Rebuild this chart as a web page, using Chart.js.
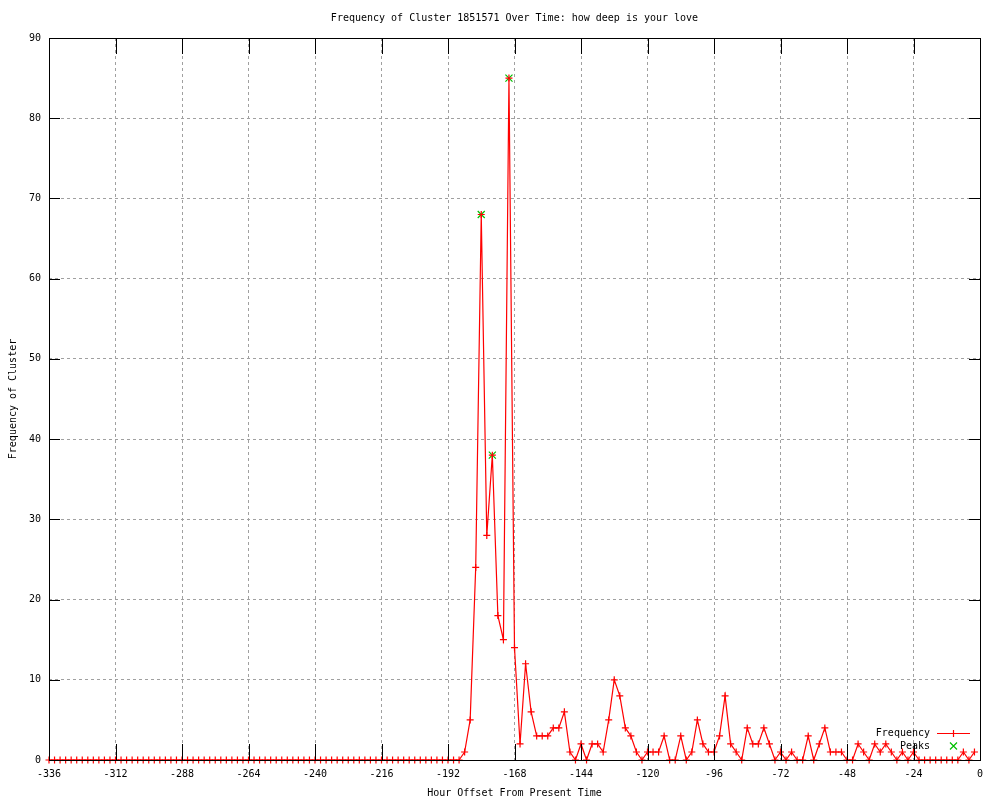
<!DOCTYPE html>
<html>
<head>
<meta charset="utf-8">
<title>Frequency of Cluster 1851571</title>
<script src="https://cdn.jsdelivr.net/npm/chart.js@4/dist/chart.umd.min.js"></script>
<style>
  html, body { margin: 0; padding: 0; background: #fff; }
  #wrap { width: 1000px; height: 800px; }
</style>
</head>
<body>
<div id="wrap"><canvas id="chartFreq" width="1000" height="800"></canvas></div>
<script>
const chartTitle = "Frequency of Cluster 1851571 Over Time: how deep is your love";
const xTitle = "Hour Offset From Present Time";
const yTitle = "Frequency of Cluster";

// one sample every 2 hours, first one at -336
const startHour = -336;
const stepHours = 2;
const frequency = [
  0, 0, 0, 0, 0, 0, 0, 0, 0, 0, 0, 0, 0, 0, 0,
  0, 0, 0, 0, 0, 0, 0, 0, 0, 0, 0, 0, 0, 0, 0,
  0, 0, 0, 0, 0, 0, 0, 0, 0, 0, 0, 0, 0, 0, 0,
  0, 0, 0, 0, 0, 0, 0, 0, 0, 0, 0, 0, 0, 0, 0,
  0, 0, 0, 0, 0, 0, 0, 0, 0, 0, 0, 0, 0, 0, 0,
  // -186 .. -168
  1, 5, 24, 68, 28, 38, 18, 15, 85, 14,
  // -166 .. -148
  2, 12, 6, 3, 3, 3, 4, 4, 6, 1,
  // -146 .. -128
  0, 2, 0, 2, 2, 1, 5, 10, 8, 4,
  // -126 .. -108
  3, 1, 0, 1, 1, 1, 3, 0, 0, 3,
  // -106 .. -88
  0, 1, 5, 2, 1, 1, 3, 8, 2, 1,
  // -86 .. -68
  0, 4, 2, 2, 4, 2, 0, 1, 0, 1,
  // -66 .. -48
  0, 0, 3, 0, 2, 4, 1, 1, 1, 0,
  // -46 .. -28
  0, 2, 1, 0, 2, 1, 2, 1, 0, 1,
  // -26 .. -8
  0, 1, 0, 0, 0, 0, 0, 0, 0, 0,
  // -6 .. -2
  1, 0, 1
];
const peakHours = [-180, -176, -170];
const peakValues = [68, 38, 85];

const xTicks = [-336, -312, -288, -264, -240, -216, -192, -168, -144, -120, -96, -72, -48, -24, 0];
const yTicks = [0, 10, 20, 30, 40, 50, 60, 70, 80, 90];

const FONT = "'DejaVu Sans Mono', 'Liberation Mono', monospace";
const RED = "#ff0000";
const GREEN = "#00c000";

const freqPoints = frequency.map((v, i) => ({ x: startHour + i * stepHours, y: v }));
const peakPoints = peakHours.map((h, i) => ({ x: h, y: peakValues[i] }));

const gnuplotFrame = {
  id: "gnuplotFrame",
  afterDatasetsDraw(chart) {
    const { ctx, chartArea: a, scales } = chart;
    const x = scales.x, y = scales.y;
    ctx.save();
    ctx.setLineDash([]);
    ctx.strokeStyle = "#000";
    ctx.lineWidth = 1;
    ctx.strokeRect(a.left + 0.5, a.top + 0.5, a.right - a.left, a.bottom - a.top);

    // inward tick marks on all four sides
    ctx.beginPath();
    x.ticks.forEach(t => {
      const px = Math.round(x.getPixelForValue(t.value)) + 0.5;
      ctx.moveTo(px, a.bottom); ctx.lineTo(px, a.bottom - 16);
      ctx.moveTo(px, a.top); ctx.lineTo(px, a.top + 16);
    });
    y.ticks.forEach(t => {
      const py = Math.round(y.getPixelForValue(t.value)) + 0.5;
      ctx.moveTo(a.left, py); ctx.lineTo(a.left + 11, py);
      ctx.moveTo(a.right, py); ctx.lineTo(a.right - 11, py);
    });
    ctx.stroke();

    // titles
    ctx.fillStyle = "#000";
    ctx.font = "10px " + FONT;
    ctx.textAlign = "center";
    ctx.textBaseline = "middle";
    const cx = (a.left + a.right) / 2;
    ctx.fillText(chartTitle, cx, 18);
    ctx.fillText(xTitle, cx, 793);
    ctx.save();
    ctx.translate(13, (a.top + a.bottom) / 2);
    ctx.rotate(-Math.PI / 2);
    ctx.fillText(yTitle, 0, 0);
    ctx.restore();

    // legend, gnuplot style: text then sample
    const ds = chart.data.datasets;
    ctx.textAlign = "right";
    ctx.fillText(ds[0].label, 930, 733);
    ctx.fillText(ds[1].label, 930, 746);
    ctx.lineWidth = 1.2;
    ctx.strokeStyle = ds[0].borderColor;
    ctx.beginPath();
    ctx.moveTo(937, 733.5); ctx.lineTo(970, 733.5);
    ctx.moveTo(953.5, 730); ctx.lineTo(953.5, 737);
    ctx.stroke();
    ctx.strokeStyle = ds[1].borderColor;
    ctx.beginPath();
    ctx.moveTo(950, 742.5); ctx.lineTo(957, 749.5);
    ctx.moveTo(957, 742.5); ctx.lineTo(950, 749.5);
    ctx.stroke();
    ctx.restore();
  }
};

const configFreq = {
  type: "line",
  data: {
    datasets: [
      {
        label: "Frequency",
        data: freqPoints,
        borderColor: RED,
        backgroundColor: RED,
        borderWidth: 1.2,
        pointStyle: "cross",
        pointRadius: 3.5,
        pointBorderWidth: 1.2,
        pointBorderColor: RED,
        tension: 0,
        fill: false,
        clip: false
      },
      {
        label: "Peaks",
        data: peakPoints,
        showLine: false,
        borderColor: GREEN,
        backgroundColor: GREEN,
        pointStyle: "crossRot",
        pointRadius: 5,
        pointBorderWidth: 1.2,
        pointBorderColor: GREEN,
        clip: false
      }
    ]
  },
  options: {
    responsive: false,
    animation: false,
    devicePixelRatio: 1,
    layout: { padding: { top: 38, right: 20, left: 0, bottom: 0 } },
    plugins: {
      legend: { display: false },
      title: { display: false },
      tooltip: { enabled: false }
    },
    scales: {
      x: {
        type: "linear",
        min: -336,
        max: 0,
        afterBuildTicks: s => { s.ticks = xTicks.map(v => ({ value: v })); },
        afterFit: s => { s.height = 40; },
        grid: { color: "#a0a0a0", lineWidth: 1, drawTicks: false },
        border: { display: false, dash: [3, 3] },
        ticks: {
          color: "#000",
          font: { family: FONT, size: 10 },
          padding: 8,
          maxRotation: 0,
          autoSkip: false
        }
      },
      y: {
        type: "linear",
        min: 0,
        max: 90,
        afterBuildTicks: s => { s.ticks = yTicks.map(v => ({ value: v })); },
        afterFit: s => { s.width = 49; },
        grid: { color: "#a0a0a0", lineWidth: 1, drawTicks: false },
        border: { display: false, dash: [3, 3] },
        ticks: {
          color: "#000",
          font: { family: FONT, size: 10 },
          padding: 8,
          autoSkip: false
        }
      }
    }
  },
  plugins: [gnuplotFrame]
};

const chartFreq = new Chart(document.getElementById("chartFreq"), configFreq);
</script>
</body>
</html>
